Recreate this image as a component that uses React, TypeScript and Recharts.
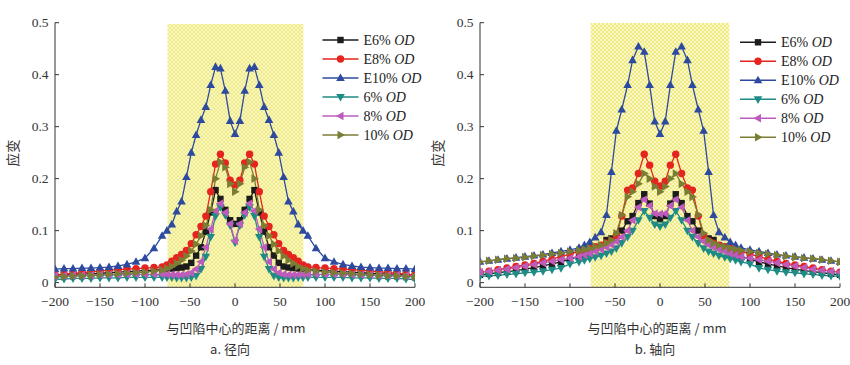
import React from 'react';
import { LineChart, Line, XAxis, YAxis, ReferenceArea } from 'recharts';

// ---------- data ----------
const XL = [-200,-190,-180,-170,-160,-150,-140,-130,-120,-110,-100,-90,-81,-75.6,-70.2,-64.8,-59.4,-54,-48.6,-43.2,-37.8,-32.4,-27,-21.6,-16.2,-10.8,-5.4,0,5.4,10.8,16.2,21.6,27,32.4,37.8,43.2,48.6,54,59.4,64.8,70.2,75.6,81,90,100,110,120,130,140,150,160,170,180,190,200];
const L_E6 = [0.014,0.015,0.016,0.017,0.017,0.018,0.019,0.020,0.021,0.022,0.023,0.024,0.025,0.026,0.027,0.028,0.029,0.031,0.038,0.052,0.068,0.098,0.135,0.178,0.161,0.140,0.120,0.113,0.120,0.140,0.161,0.178,0.135,0.098,0.068,0.052,0.038,0.031,0.029,0.028,0.027,0.026,0.025,0.024,0.023,0.022,0.021,0.020,0.019,0.018,0.017,0.017,0.016,0.015,0.014];
const L_E8 = [0.015,0.016,0.018,0.019,0.021,0.022,0.024,0.025,0.026,0.027,0.028,0.029,0.030,0.034,0.041,0.048,0.054,0.062,0.075,0.092,0.108,0.128,0.175,0.228,0.247,0.230,0.197,0.188,0.197,0.230,0.247,0.228,0.175,0.128,0.108,0.092,0.075,0.062,0.054,0.048,0.041,0.034,0.030,0.029,0.028,0.027,0.026,0.025,0.024,0.022,0.021,0.019,0.018,0.016,0.015];
const L_E10 = [0.026,0.027,0.027,0.028,0.028,0.029,0.030,0.032,0.035,0.040,0.047,0.066,0.090,0.100,0.112,0.137,0.156,0.203,0.250,0.284,0.313,0.338,0.380,0.415,0.412,0.369,0.311,0.286,0.311,0.369,0.412,0.415,0.380,0.338,0.313,0.284,0.250,0.203,0.156,0.137,0.112,0.100,0.090,0.066,0.047,0.040,0.035,0.032,0.030,0.029,0.028,0.028,0.027,0.027,0.026];
const L_6 = [0.006,0.007,0.008,0.008,0.008,0.009,0.009,0.009,0.010,0.010,0.010,0.010,0.010,0.010,0.010,0.009,0.009,0.009,0.010,0.013,0.026,0.050,0.088,0.128,0.145,0.130,0.110,0.077,0.110,0.130,0.145,0.128,0.088,0.050,0.026,0.013,0.010,0.009,0.009,0.009,0.010,0.010,0.010,0.010,0.010,0.010,0.010,0.009,0.009,0.009,0.008,0.008,0.008,0.007,0.006];
const L_8 = [0.013,0.013,0.014,0.014,0.014,0.015,0.015,0.015,0.016,0.016,0.016,0.016,0.016,0.016,0.015,0.015,0.015,0.016,0.019,0.026,0.040,0.068,0.103,0.138,0.152,0.135,0.113,0.080,0.113,0.135,0.152,0.138,0.103,0.068,0.040,0.026,0.019,0.016,0.015,0.015,0.015,0.016,0.016,0.016,0.016,0.016,0.016,0.015,0.015,0.015,0.014,0.014,0.014,0.013,0.013];
const L_10 = [0.011,0.012,0.013,0.013,0.014,0.015,0.016,0.017,0.018,0.019,0.020,0.022,0.024,0.027,0.031,0.037,0.043,0.051,0.061,0.074,0.090,0.110,0.140,0.200,0.232,0.222,0.190,0.175,0.190,0.222,0.232,0.200,0.140,0.110,0.090,0.074,0.061,0.051,0.043,0.037,0.031,0.027,0.024,0.022,0.020,0.019,0.018,0.017,0.016,0.015,0.014,0.013,0.013,0.012,0.011];

const XR = [-200,-190,-180,-170,-160,-150,-140,-130,-120,-110,-100,-90,-84,-78,-72,-65.5,-59.5,-54,-48.5,-42.5,-36,-30.5,-24,-17.5,-11.5,-5.8,0,5.8,11.5,17.5,24,30.5,36,42.5,48.5,54,59.5,65.5,72,78,84,90,100,110,120,130,140,150,160,170,180,190,200];
const R_E6 = [0.015,0.017,0.019,0.021,0.023,0.026,0.029,0.032,0.036,0.040,0.045,0.050,0.054,0.058,0.064,0.072,0.082,0.085,0.090,0.100,0.118,0.128,0.153,0.170,0.152,0.128,0.122,0.128,0.152,0.170,0.153,0.128,0.118,0.100,0.090,0.085,0.082,0.072,0.064,0.058,0.054,0.050,0.045,0.040,0.036,0.032,0.029,0.026,0.023,0.021,0.019,0.017,0.015];
const R_E8 = [0.020,0.022,0.025,0.028,0.031,0.034,0.037,0.041,0.045,0.050,0.055,0.060,0.063,0.066,0.069,0.072,0.076,0.080,0.090,0.128,0.178,0.182,0.210,0.247,0.226,0.195,0.186,0.195,0.226,0.247,0.210,0.182,0.178,0.128,0.090,0.080,0.076,0.072,0.069,0.066,0.063,0.060,0.055,0.050,0.045,0.041,0.037,0.034,0.031,0.028,0.025,0.022,0.020];
const R_E10 = [0.040,0.042,0.044,0.046,0.048,0.050,0.052,0.054,0.057,0.060,0.063,0.067,0.072,0.078,0.087,0.097,0.130,0.213,0.292,0.333,0.380,0.428,0.454,0.444,0.380,0.310,0.286,0.310,0.380,0.444,0.454,0.428,0.380,0.333,0.292,0.213,0.130,0.097,0.087,0.078,0.072,0.067,0.063,0.060,0.057,0.054,0.052,0.050,0.048,0.046,0.044,0.042,0.040];
const R_6 = [0.012,0.013,0.014,0.016,0.017,0.019,0.020,0.022,0.025,0.028,0.036,0.040,0.043,0.046,0.049,0.052,0.056,0.060,0.066,0.076,0.088,0.100,0.120,0.138,0.125,0.112,0.108,0.112,0.125,0.138,0.120,0.100,0.088,0.076,0.066,0.060,0.056,0.052,0.049,0.046,0.043,0.040,0.036,0.028,0.025,0.022,0.020,0.019,0.017,0.016,0.014,0.013,0.012];
const R_8 = [0.020,0.022,0.024,0.026,0.029,0.032,0.035,0.038,0.041,0.044,0.047,0.050,0.053,0.056,0.060,0.064,0.068,0.073,0.079,0.088,0.100,0.120,0.145,0.160,0.148,0.133,0.132,0.133,0.148,0.160,0.145,0.120,0.100,0.088,0.079,0.073,0.068,0.064,0.060,0.056,0.053,0.050,0.047,0.044,0.041,0.038,0.035,0.032,0.029,0.026,0.024,0.022,0.020];
const R_10 = [0.040,0.042,0.044,0.046,0.047,0.049,0.051,0.053,0.055,0.057,0.060,0.062,0.064,0.066,0.069,0.072,0.076,0.082,0.095,0.130,0.165,0.175,0.190,0.210,0.200,0.185,0.175,0.185,0.200,0.210,0.190,0.175,0.165,0.130,0.095,0.082,0.076,0.072,0.069,0.066,0.064,0.062,0.060,0.057,0.055,0.053,0.051,0.049,0.047,0.046,0.044,0.042,0.040];

const X_TICKS = [-200, -150, -100, -50, 0, 50, 100, 150, 200];
const Y_TICKS = [0, 0.1, 0.2, 0.3, 0.4, 0.5];
const SERIES_NAMES = ['E6%', 'E8%', 'E10%', '6%', '8%', '10%'];
const SERIES_COLORS = ['#1c1c1c', '#e5231f', '#2d4a9e', '#1e8b85', '#bd5cbd', '#7c7d34'];
const SERIES_SHAPES = ['square', 'circle', 'up', 'down', 'left', 'right'];

const FONT = 'Liberation Serif, serif';
const CJK = 'Noto Sans CJK SC, sans-serif';
const AXIS = '#333';

// ---------- drawing helpers ----------
function Marker({ shape, x, y, color }: { shape: string; x: number; y: number; color: string }) {
  switch (shape) {
    case 'square':
      return <rect x={x - 3.2} y={y - 3.2} width={6.4} height={6.4} fill={color} />;
    case 'circle':
      return <circle cx={x} cy={y} r={3.7} fill={color} />;
    case 'up':
      return <polygon points={`${x},${y - 4.6} ${x - 4.3},${y + 3} ${x + 4.3},${y + 3}`} fill={color} />;
    case 'down':
      return <polygon points={`${x},${y + 4.6} ${x - 4.3},${y - 3} ${x + 4.3},${y - 3}`} fill={color} />;
    case 'left':
      return <polygon points={`${x - 4.6},${y} ${x + 3},${y - 4.3} ${x + 3},${y + 4.3}`} fill={color} />;
    default:
      return <polygon points={`${x + 4.6},${y} ${x - 3},${y - 4.3} ${x - 3},${y + 4.3}`} fill={color} />;
  }
}

const makeDot = (shape: string, color: string) => (props: any) => {
  const { cx, cy, index } = props;
  if (cx == null || cy == null || isNaN(cx) || isNaN(cy)) return <g key={`d${index}`} />;
  return <Marker key={`d${index}`} shape={shape} x={cx} y={cy} color={color} />;
};

const fmtX = (v: number) => (v < 0 ? `\u2212${Math.abs(v)}` : `${v}`);
const fmtY = (v: number) => (v === 0 ? '0' : v.toFixed(1));

const XTick = (props: any) => {
  const { x, y, payload } = props;
  return (
    <g>
      <line x1={x} y1={y} x2={x} y2={y - 4} stroke={AXIS} strokeWidth={1} />
      <text x={x} y={y + 19} textAnchor="middle" fontSize={13.5} fontFamily={FONT} fill="#333">
        {fmtX(payload.value)}
      </text>
    </g>
  );
};

const YTick = (props: any) => {
  const { x, y, payload } = props;
  return (
    <g>
      <line x1={x} y1={y} x2={x + 4} y2={y} stroke={AXIS} strokeWidth={1} />
      <text x={x - 6.5} y={y + 4.5} textAnchor="end" fontSize={13.5} fontFamily={FONT} fill="#333">
        {fmtY(payload.value)}
      </text>
    </g>
  );
};

function Panel({ xs, series, id, band }: { xs: number[]; series: number[][]; id: string; band: [number, number, number] }) {
  return (
    <LineChart width={425} height={365} margin={{ top: 22.7, right: 10, left: 15, bottom: 47.7 }}>
      <defs>
        <pattern id={id} width="4" height="4" patternUnits="userSpaceOnUse">
          <rect width="4" height="4" fill="#f0eb80" />
          <path d="M0,0 L4,4 M4,0 L0,4" stroke="#faf7cf" strokeWidth="0.9" />
        </pattern>
      </defs>
      <XAxis
        dataKey="x"
        type="number"
        domain={[-200, 200]}
        ticks={X_TICKS}
        allowDataOverflow
        height={30}
        tickSize={0}
        tickMargin={0}
        tickLine={false}
        tick={<XTick />}
        axisLine={{ stroke: AXIS, strokeWidth: 1 }}
        interval={0}
      />
      <YAxis
        type="number"
        domain={[-0.009, 0.5]}
        ticks={Y_TICKS}
        allowDataOverflow
        width={40}
        tickSize={0}
        tickMargin={0}
        tickLine={false}
        tick={<YTick />}
        axisLine={{ stroke: AXIS, strokeWidth: 1 }}
        interval={0}
      />
      <ReferenceArea
        x1={band[0]}
        x2={band[1]}
        y1={-0.009}
        y2={band[2]}
        fill={`url(#${id})`}
        fillOpacity={1}
        stroke="none"
        ifOverflow="hidden"
      />
      {series.map((vals, si) => (
        <Line
          key={SERIES_NAMES[si]}
          name={SERIES_NAMES[si]}
          data={xs.map((x, i) => ({ x, v: vals[i] }))}
          dataKey="v"
          type="linear"
          stroke={SERIES_COLORS[si]}
          strokeWidth={1.3}
          dot={makeDot(SERIES_SHAPES[si], SERIES_COLORS[si])}
          activeDot={false}
          isAnimationActive={false}
        />
      ))}
    </LineChart>
  );
}

function LegendBlock({ x, y }: { x: number; y: number }) {
  return (
    <g>
      {SERIES_NAMES.map((n, i) => {
        const cy = y + i * 19;
        const c = SERIES_COLORS[i];
        return (
          <g key={n}>
            <line x1={x} y1={cy} x2={x + 36} y2={cy} stroke={c} strokeWidth={1.4} />
            <Marker shape={SERIES_SHAPES[i]} x={x + 18} y={cy} color={c} />
            <text x={x + 41} y={cy + 4.5} fontSize={14} fontFamily={FONT} fill="#222">
              {n} <tspan fontStyle="italic">OD</tspan>
            </text>
          </g>
        );
      })}
    </g>
  );
}

export default function App() {
  return (
    <div style={{ position: 'absolute', left: 0, top: 0, width: 850, height: 365, background: '#fff' }}>
      <div style={{ position: 'absolute', left: 0, top: 0 }}>
        <Panel xs={XL} series={[L_E6, L_E8, L_E10, L_6, L_8, L_10]} id="hatchL" band={[-75, 76, 0.4975]} />
      </div>
      <div style={{ position: 'absolute', left: 425, top: 0 }}>
        <Panel xs={XR} series={[R_E6, R_E8, R_E10, R_6, R_8, R_10]} id="hatchR" band={[-77, 77, 0.5]} />
      </div>
      <svg width={850} height={365} style={{ position: 'absolute', left: 0, top: 0, pointerEvents: 'none' }}>
        <LegendBlock x={322.5} y={40} />
        <LegendBlock x={740} y={42.3} />
        <text x={236} y={333} textAnchor="middle" fontSize={13} fontFamily={CJK} fill="#333">
          与凹陷中心的距离 / mm
        </text>
        <text x={230} y={354} textAnchor="middle" fontSize={13} fontFamily={CJK} fill="#333">
          a. 径向
        </text>
        <text x={657} y={333} textAnchor="middle" fontSize={13} fontFamily={CJK} fill="#333">
          与凹陷中心的距离 / mm
        </text>
        <text x={655} y={354} textAnchor="middle" fontSize={13} fontFamily={CJK} fill="#333">
          b. 轴向
        </text>
        <text transform="translate(17.5,153) rotate(-90)" textAnchor="middle" fontSize={13.5} fontFamily={CJK} fill="#333">
          应变
        </text>
        <text transform="translate(442.5,153) rotate(-90)" textAnchor="middle" fontSize={13.5} fontFamily={CJK} fill="#333">
          应变
        </text>
      </svg>
    </div>
  );
}
